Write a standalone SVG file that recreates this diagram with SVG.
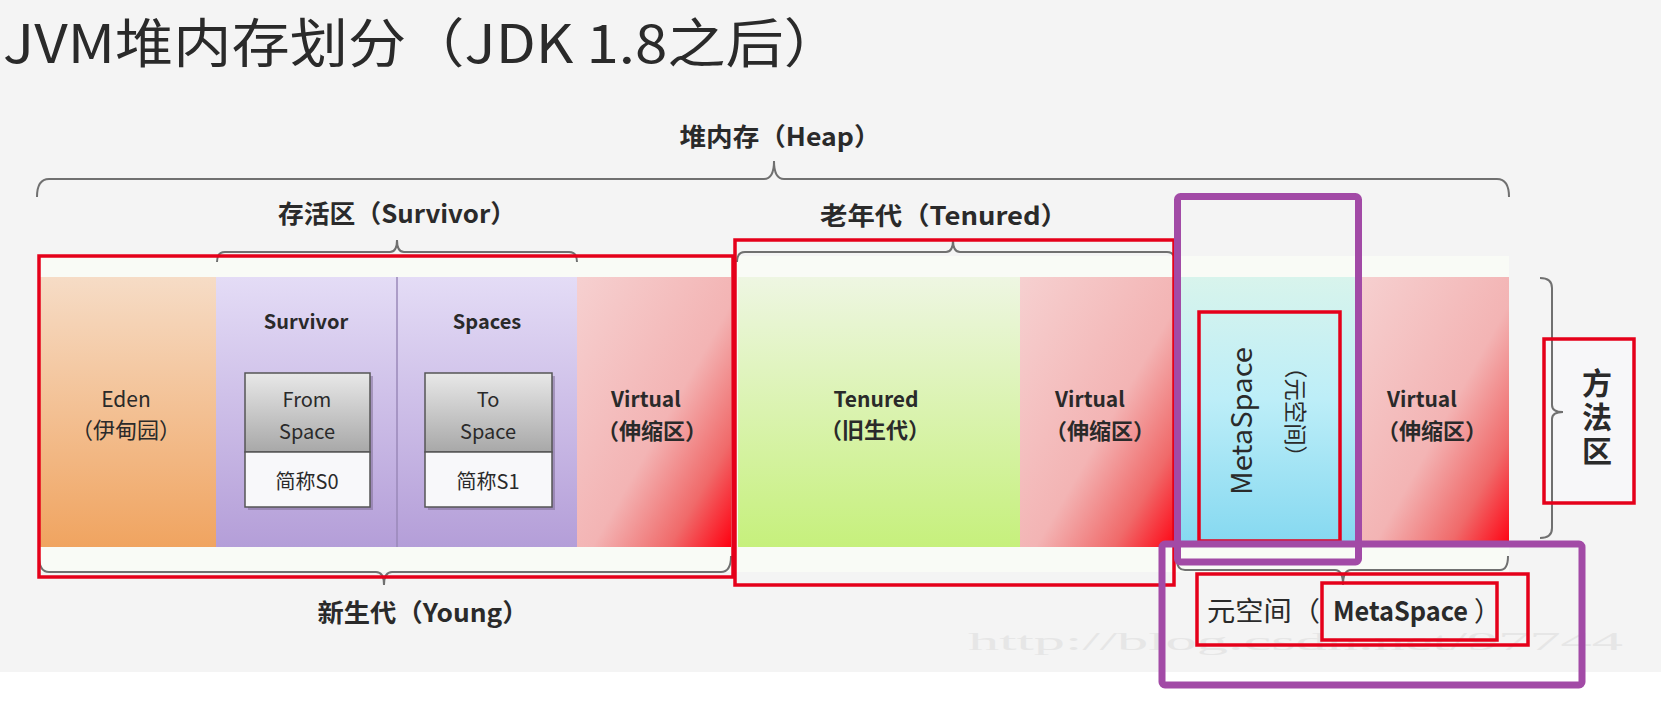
<svg xmlns="http://www.w3.org/2000/svg" width="1661" height="703" viewBox="0 0 1661 703">
<defs>
<style>
.t{font-family:"Noto Sans CJK SC","Noto Sans",sans-serif;fill:#2a2a2a}
.b{font-weight:bold}
.c{text-anchor:middle;dominant-baseline:central}
.brace{fill:none;stroke:#707070;stroke-width:2}
.red{fill:none;stroke:#e5001a;stroke-width:3.5}
.pur{fill:none;stroke:#a24aa6;stroke-width:7}
</style>
<linearGradient id="gEden" x1="0" y1="0" x2="0" y2="1"><stop offset="0" stop-color="#f6dcc6"/><stop offset="1" stop-color="#f0a460"/></linearGradient>
<linearGradient id="gSurv" x1="0" y1="0" x2="0" y2="1"><stop offset="0" stop-color="#e4dcf6"/><stop offset="1" stop-color="#b49ed8"/></linearGradient>
<linearGradient id="gTen" x1="0" y1="0" x2="0" y2="1"><stop offset="0" stop-color="#eef6e2"/><stop offset="1" stop-color="#c6f07c"/></linearGradient>
<linearGradient id="gMeta" x1="0" y1="0" x2="0" y2="1"><stop offset="0" stop-color="#d8f4ec"/><stop offset="0.45" stop-color="#bdeef8"/><stop offset="1" stop-color="#84d8f0"/></linearGradient>
<linearGradient id="gVirt" x1="0" y1="0" x2="1" y2="1"><stop offset="0" stop-color="#f6d0d0"/><stop offset="0.55" stop-color="#f3b4b4"/><stop offset="0.8" stop-color="#f06a6a"/><stop offset="1" stop-color="#ff0010"/></linearGradient>
<linearGradient id="gBox" x1="0" y1="0" x2="0" y2="1"><stop offset="0" stop-color="#e8e8e8"/><stop offset="1" stop-color="#a8a8a8"/></linearGradient>
</defs>
<rect x="0" y="0" width="1661" height="703" fill="#f4f4f4"/>
<rect x="0" y="672" width="1661" height="31" fill="#ffffff"/>
<text class="t" x="3" y="63" font-size="53" textLength="839" lengthAdjust="spacingAndGlyphs" fill="#1e1e1e">JVM堆内存划分（JDK 1.8之后）</text>
<text x="968" y="650" font-family="Liberation Serif,serif" font-size="26" fill="#e6e6e6" textLength="655" lengthAdjust="spacingAndGlyphs">http://blog.csdn.net/97744</text>

<rect x="39" y="256" width="1470" height="316" fill="#f9fbf6"/>

<g id="eden"><rect x="39" y="277" width="177" height="270" fill="url(#gEden)"/>
<text class="t c" x="126" y="398" font-size="21" fill="#5b3a1e">Eden</text>
<text class="t c" x="126" y="428" font-size="22" fill="#5b3a1e">（伊甸园）</text></g>

<g id="s0"><rect x="216" y="277" width="181" height="270" fill="url(#gSurv)"/>
<text class="t b c" x="306" y="320" font-size="20" fill="#2a2040">Survivor</text>
<rect x="248" y="376" width="125" height="134" fill="#7a6890" opacity="0.5"/>
<rect x="245" y="373" width="125" height="79" fill="url(#gBox)" stroke="#555" stroke-width="1.5"/>
<rect x="245" y="452" width="125" height="55" fill="#f8f8fa" stroke="#555" stroke-width="1.5"/>
<text class="t c" x="307" y="398" font-size="20" fill="#3c3c3c">From</text>
<text class="t c" x="307" y="430" font-size="20" fill="#3c3c3c">Space</text>
<text class="t c" x="307" y="480" font-size="20" fill="#3c3c3c">简称S0</text></g>

<g id="s1"><rect x="397" y="277" width="180" height="270" fill="url(#gSurv)"/>
<line x1="397" y1="277" x2="397" y2="547" stroke="#9a88b8" stroke-width="1.5"/>
<text class="t b c" x="487" y="320" font-size="20" fill="#2a2040">Spaces</text>
<rect x="428" y="376" width="127" height="134" fill="#7a6890" opacity="0.5"/>
<rect x="425" y="373" width="127" height="79" fill="url(#gBox)" stroke="#555" stroke-width="1.5"/>
<rect x="425" y="452" width="127" height="55" fill="#f8f8fa" stroke="#555" stroke-width="1.5"/>
<text class="t c" x="488" y="398" font-size="20" fill="#3c3c3c">To</text>
<text class="t c" x="488" y="430" font-size="20" fill="#3c3c3c">Space</text>
<text class="t c" x="488" y="480" font-size="20" fill="#3c3c3c">简称S1</text></g>

<g id="virtual-young"><rect x="577" y="277" width="154" height="270" fill="url(#gVirt)"/>
<text class="t b c" x="646" y="398" font-size="21" fill="#3a2020">Virtual</text>
<text class="t b c" x="652" y="429" font-size="22" fill="#3a2020">（伸缩区）</text></g>

<g id="tenured"><rect x="738" y="277" width="282" height="270" fill="url(#gTen)"/>
<text class="t b c" x="876" y="398" font-size="21" fill="#2a3a1a">Tenured</text>
<text class="t b c" x="875" y="428" font-size="22" fill="#2a3a1a">（旧生代）</text></g>

<g id="virtual-old"><rect x="1020" y="277" width="157" height="270" fill="url(#gVirt)"/>
<text class="t b c" x="1090" y="398" font-size="21" fill="#3a2020">Virtual</text>
<text class="t b c" x="1100" y="429" font-size="22" fill="#3a2020">（伸缩区）</text></g>

<g id="metaspace"><rect x="1177" y="277" width="181" height="270" fill="url(#gMeta)"/>
<text class="t c" transform="translate(1240,421) rotate(-90)" font-size="28" textLength="148" lengthAdjust="spacingAndGlyphs" fill="#1a3a48">MetaSpace</text>
<text class="t c" transform="translate(1297,412) rotate(90)" font-size="23" textLength="112" lengthAdjust="spacingAndGlyphs" fill="#3a5a6a">（元空间）</text></g>

<g id="virtual-meta"><rect x="1358" y="277" width="151" height="270" fill="url(#gVirt)"/>
<text class="t b c" x="1422" y="398" font-size="21" fill="#3a2020">Virtual</text>
<text class="t b c" x="1432" y="429" font-size="22" fill="#3a2020">（伸缩区）</text></g>

<g id="method-area"><rect x="1544" y="339" width="90" height="164" fill="#f7f7f9"/>
<text class="t b" x="1597" y="368" font-size="30" writing-mode="vertical-rl" letter-spacing="4" fill="#303030">方法区</text></g>

<g id="labels">
<text class="t b c" x="780" y="135" font-size="25" textLength="201" lengthAdjust="spacingAndGlyphs">堆内存（Heap）</text>
<text class="t b c" x="397" y="212" font-size="25" textLength="238" lengthAdjust="spacingAndGlyphs">存活区（Survivor）</text>
<text class="t b c" x="944" y="214" font-size="25" textLength="248" lengthAdjust="spacingAndGlyphs">老年代（Tenured）</text>
<text class="t b c" x="423" y="611" font-size="25" textLength="211" lengthAdjust="spacingAndGlyphs">新生代（Young）</text>
<text class="t" y="621" font-size="27"><tspan x="1207" textLength="113" lengthAdjust="spacingAndGlyphs">元空间（</tspan><tspan x="1333" font-weight="bold" textLength="135" lengthAdjust="spacingAndGlyphs">MetaSpace</tspan><tspan x="1474">）</tspan></text>
</g>

<g id="connectors">
<path class="brace" d="M37,197 Q37,179 49,179 L764,179 Q774,179 774,161 Q774,179 784,179 L1497,179 Q1509,179 1509,197"/>
<path class="brace" d="M217,262 Q217,252 225,252 L390,252 Q397,252 397,240 Q397,252 404,252 L569,252 Q577,252 577,262"/>
<path class="brace" d="M737,262 Q737,252 745,252 L946,252 Q953,252 953,240 Q953,252 960,252 L1167,252 Q1175,252 1175,262"/>
<path class="brace" d="M39,556 Q39,572 49,572 L376,572 Q384,572 384,585 Q384,572 392,572 L721,572 Q731,572 731,556"/>
<path class="brace" d="M1177,560 Q1177,570 1185,570 L1335,570 Q1343,570 1343,585 Q1343,570 1351,570 L1500,570 Q1508,570 1508,556"/>
<path class="brace" d="M1540,278 Q1552,278 1552,288 L1552,405 Q1552,412 1563,412 Q1552,412 1552,419 L1552,528 Q1552,538 1540,538"/>
</g>

<g id="highlights">
<rect class="red" x="39" y="256" width="694" height="321"/>
<rect class="red" x="735" y="240" width="439" height="345"/>
<rect class="red" x="1199" y="312" width="141" height="229" stroke="#d0001a"/>
<rect class="red" x="1544" y="339" width="90" height="164"/>
<rect class="red" x="1197" y="574" width="331" height="71"/>
<rect class="red" x="1322" y="583" width="175" height="57" stroke="#d0001a"/>
<rect class="pur" x="1177.5" y="196.5" width="181" height="365.5" rx="3"/>
<rect class="pur" x="1162" y="544" width="420" height="141" rx="3"/>
</g>
</svg>
